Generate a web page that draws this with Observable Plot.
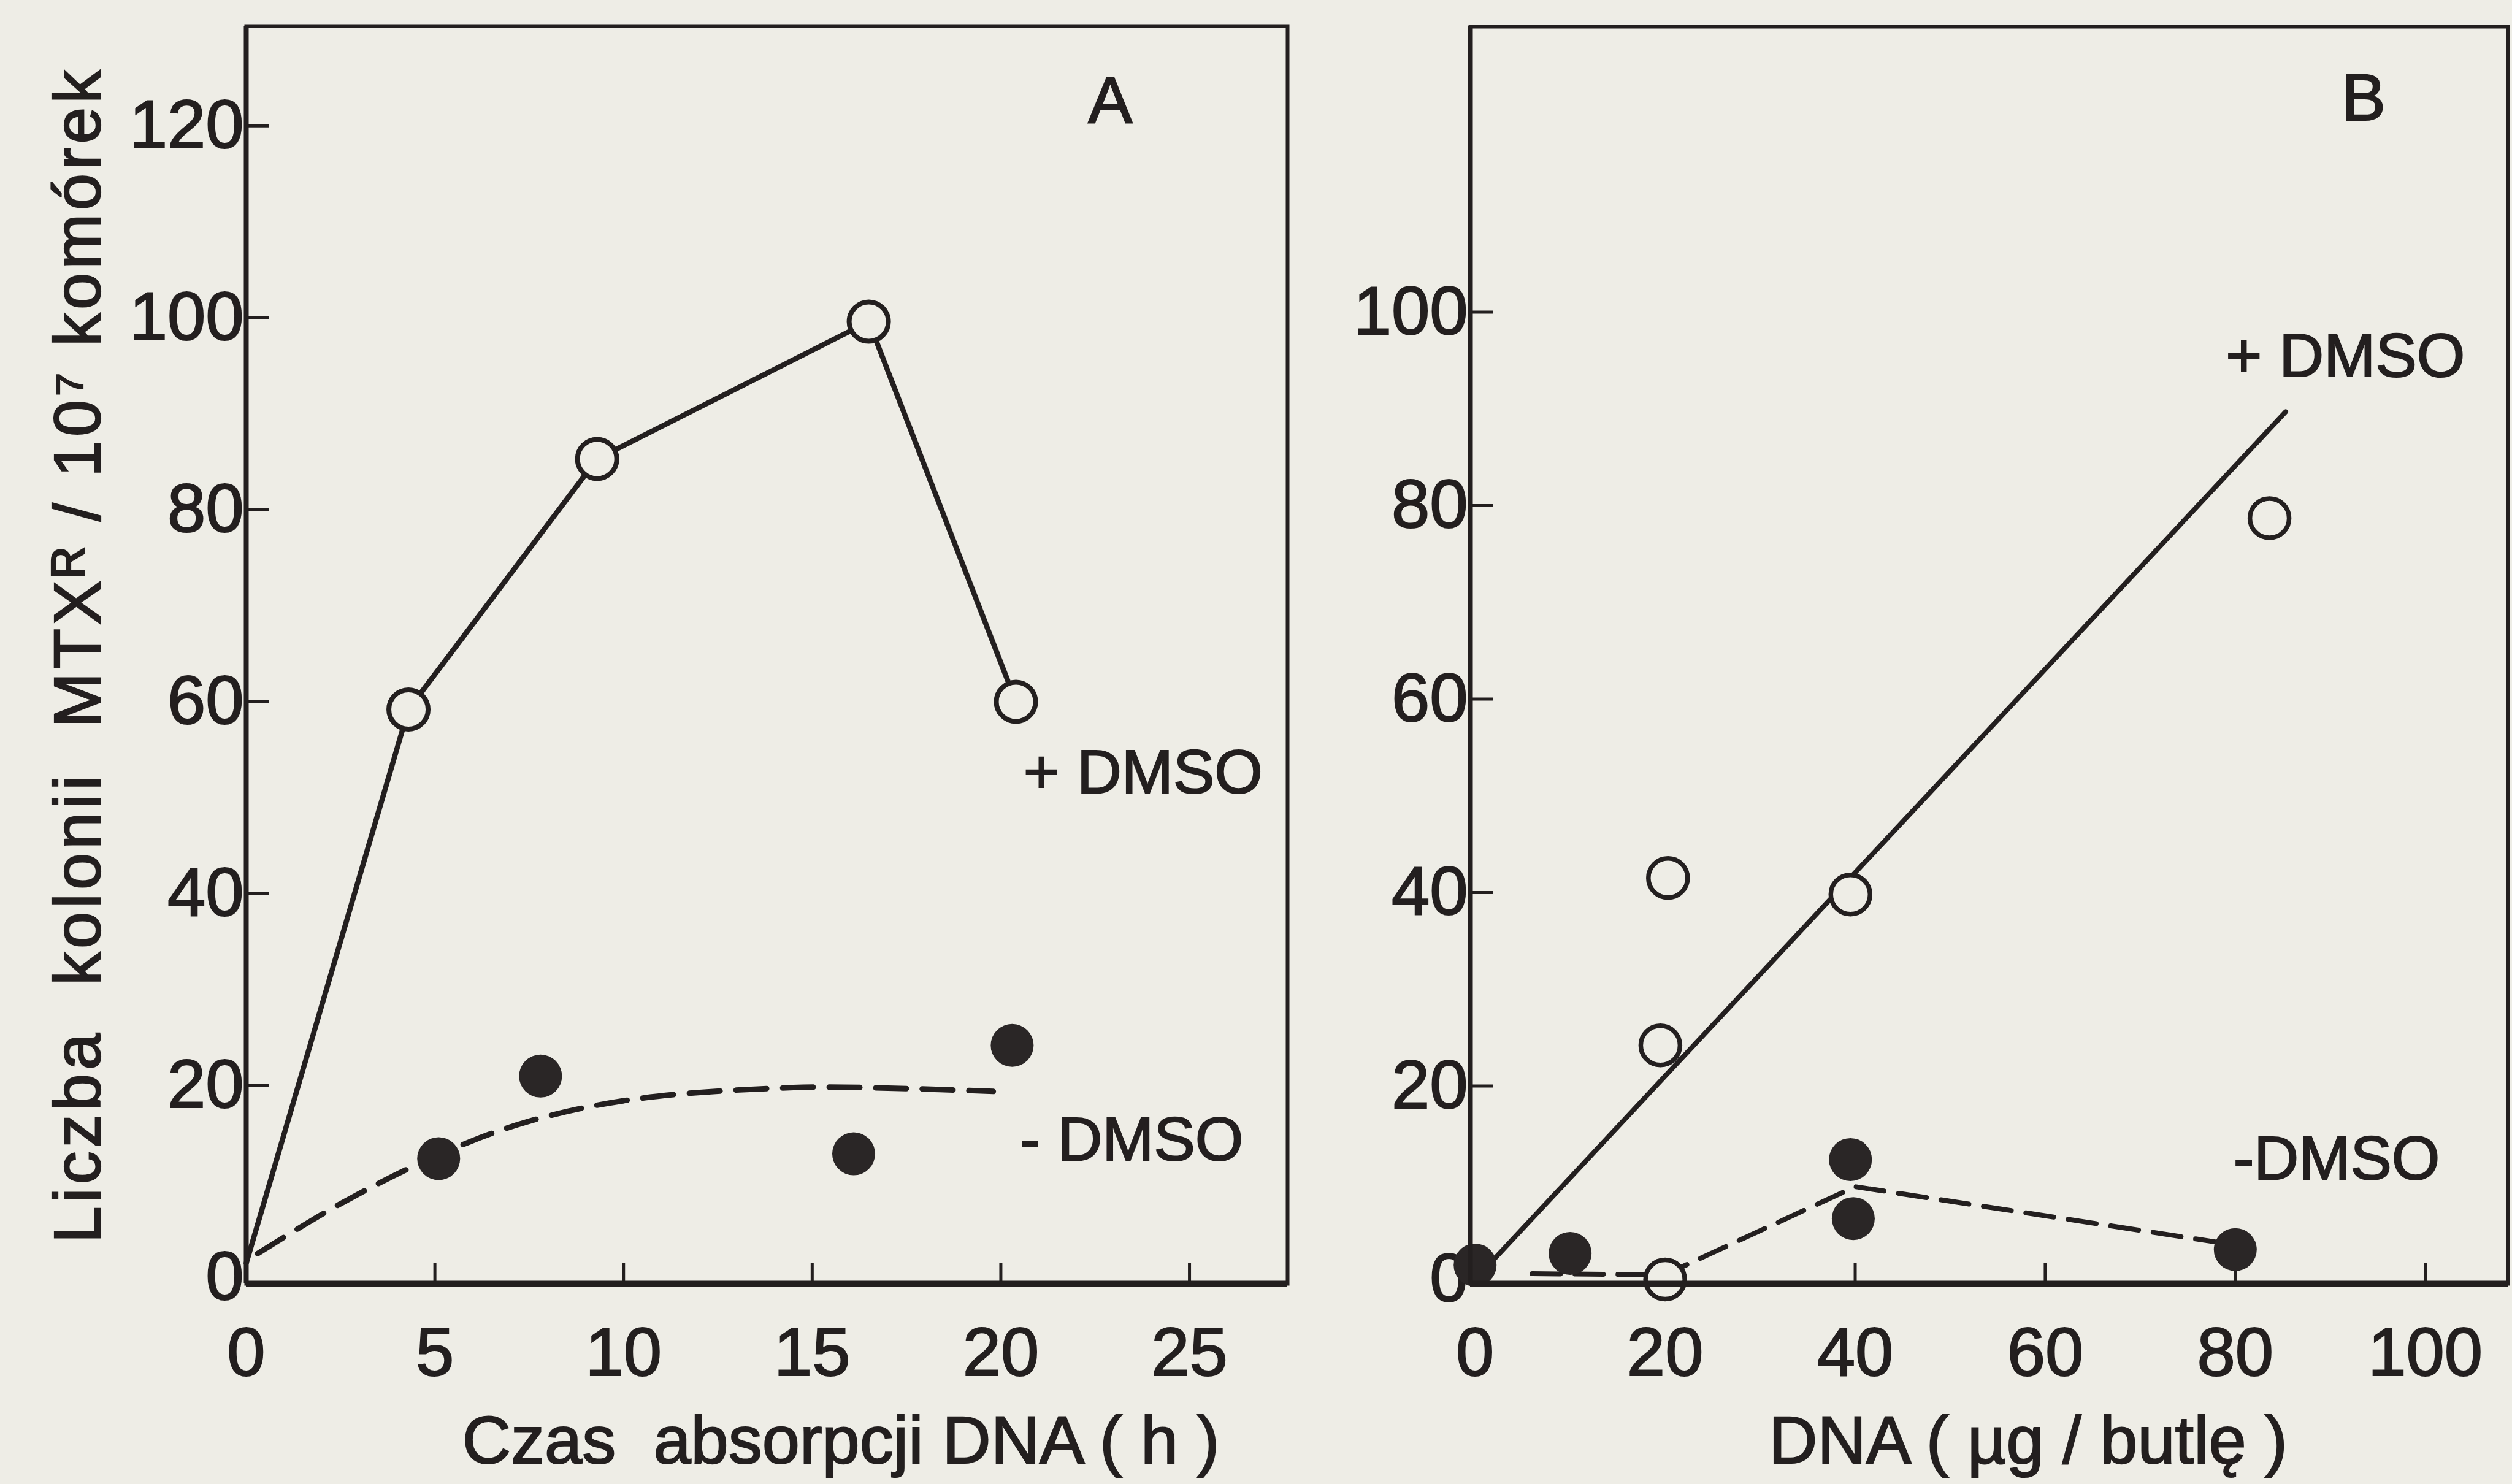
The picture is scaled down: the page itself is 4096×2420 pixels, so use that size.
<!DOCTYPE html>
<html>
<head>
<meta charset="utf-8">
<script src="https://cdn.jsdelivr.net/npm/d3@7"></script>
<script src="https://cdn.jsdelivr.net/npm/@observablehq/plot@0.6"></script>
<style>
  html, body { margin: 0; padding: 0; background: #eeede6; }
  #wrap { position: relative; width: 4096px; height: 2420px; overflow: hidden; background: #eeede6; }
  #wrap > div { position: absolute; top: 0; }
  svg { overflow: visible; }
  #wrap text { stroke: #231f1f; stroke-width: 2.2px; }
</style>
</head>
<body>
<div id="wrap"><div id="panelA" style="left:0px"></div><div id="panelB" style="left:2200px"></div></div>
<script>
// ---------- Panel A: time of DNA absorption (h) ----------
const timeA_plus      = [4.3, 9.3, 16.5, 20.4];
const coloniesA_plus  = [59.2, 85.3, 99.6, 60.0];
const lineA_x         = [0, 4.3, 9.3, 16.5, 20.4];
const lineA_y         = [1.5, 59.2, 85.3, 99.6, 60.0];
const timeA_minus     = [5.1, 7.8, 16.1, 20.3];
const coloniesA_minus = [12.4, 21.0, 12.9, 24.2];
const fitA_x          = [0.3, 2.5, 5.1, 7.5, 10.3, 14.5, 17.5, 19.8];
const fitA_y          = [2.5, 7.7, 12.8, 16.3, 18.6, 19.8, 19.7, 19.4];
const xTicksA         = [0, 5, 10, 15, 20, 25];
const yTicksA         = [0, 20, 40, 60, 80, 100, 120];
const xDomainA        = [0, 27.6];
const yDomainA        = [-0.64, 130.4];

// ---------- Panel B: DNA (µg / bottle) ----------
const dnaB_plus       = [19.5, 20.3, 39.5, 83.6, 20];
const coloniesB_plus  = [24.2, 41.5, 39.8, 78.7, 0];
const fitB_x          = [0, 85.3];
const fitB_y          = [0, 89.7];
const dnaB_minus      = [0, 10, 39.5, 39.8, 80];
const coloniesB_minus = [1.5, 2.7, 12.4, 6.3, 3.1];
const dashB_x         = [6, 20, 40, 78.5];
const dashB_y         = [0.6, 0.5, 9.6, 3.8];
const xTicksB         = [0, 20, 40, 60, 80, 100];
const yTicksB         = [0, 20, 40, 60, 80, 100];
const xDomainB        = [-0.5, 108.7];
const yDomainB        = [-0.44, 129.5];

// ---------- Text ----------
const yTitle   = "Liczba\u00a0\u00a0kolonii\u00a0\u00a0MTX\u1D3F / 10\u2077 komórek";
const xTitleA  = "Czas\u00a0\u00a0absorpcji DNA ( h )";
const xTitleB  = "DNA ( µg / butlę )";
const panelLetterA = [{t: "A", x: 22.9, y: 122.5}];
const panelLetterB = [{t: "B", x: 93.5, y: 122}];
const seriesLabelsA = [{t: "+ DMSO", x: 20.6, y: 52.6}, {t: "- DMSO", x: 20.5, y: 14.3}];
const seriesLabelsB = [{t: "+ DMSO", x: 79.0, y: 95.4}, {t: "-DMSO", x: 79.8, y: 12.4}];
const titleAX  = 15.76;
const titleBX  = 58.2;

const ink = "#231f1f";
const paper = "#eeede6";
const dotFill = "#2a2626";
const font = "'Liberation Sans', Arial, Helvetica, sans-serif";
const H = 2420;

const zip = (xs, ys) => xs.map((x, i) => ({x, y: ys[i]}));

function panel(o) {
  const frameW = o.width - o.marginLeft - o.marginRight;
  const frameH = H - o.marginTop - o.marginBottom;
  return Plot.plot({
    width: o.width, height: H,
    marginLeft: o.marginLeft, marginRight: o.marginRight, marginTop: o.marginTop, marginBottom: o.marginBottom,
    x: {domain: o.xDomain}, y: {domain: o.yDomain},
    style: {background: "transparent", fontFamily: font, fontSize: "112px", color: ink, overflow: "visible"},
    marks: [
      Plot.axisX(o.xTicks, {tickSize: 0, tickPadding: 70, fontSize: 112, label: null, fill: ink}),
      Plot.axisY(o.yTicks, {tickSize: 0, tickPadding: 4, fontSize: 112, label: null, fill: ink}),
      Plot.ruleX(o.xTicks.filter(d => d > 0), {x: d => d, stroke: ink, strokeWidth: 5, insetTop: frameH - 34}),
      Plot.ruleY(o.yTicks.filter(d => d > 0), {y: d => d, stroke: ink, strokeWidth: 5, insetRight: frameW - 38}),
      ...o.marks,
      Plot.frame({stroke: ink, strokeWidth: 6}),
      Plot.ruleY([o.yDomain[0]], {stroke: ink, strokeWidth: 10}),
      Plot.ruleX([o.xDomain[0]], {stroke: ink, strokeWidth: 8}),
      Plot.text(o.letter, {x: "x", y: "y", text: "t", textAnchor: "middle", fontSize: 108, lineAnchor: "middle", fill: ink}),
      Plot.text(o.series, {x: "x", y: "y", text: "t", textAnchor: "start", fontSize: 101, lineAnchor: "middle", fill: ink}),
      Plot.text([o.xTitle], {x: () => o.titleX, frameAnchor: "bottom", dy: 214, lineAnchor: "top", textAnchor: "middle", text: d => d, fontSize: 110, fill: ink}),
      ...(o.extra || [])
    ]
  });
}

const plotA = panel({
  width: 2200, marginLeft: 401, marginRight: 101, marginTop: 42, marginBottom: 327,
  xDomain: xDomainA, yDomain: yDomainA, xTicks: xTicksA, yTicks: yTicksA,
  letter: panelLetterA, series: seriesLabelsA, xTitle: xTitleA, titleX: titleAX,
  marks: [
    Plot.line(zip(lineA_x, lineA_y), {x: "x", y: "y", stroke: ink, strokeWidth: 8.5}),
    Plot.line(zip(fitA_x, fitA_y), {x: "x", y: "y", stroke: ink, strokeWidth: 9, strokeDasharray: "50,26", curve: "catmull-rom"}),
    Plot.dot(zip(timeA_plus, coloniesA_plus), {x: "x", y: "y", r: 32, fill: paper, stroke: ink, strokeWidth: 8}),
    Plot.dot(zip(timeA_minus, coloniesA_minus), {x: "x", y: "y", r: 35, fill: dotFill, stroke: "none"})
  ],
  extra: [
    Plot.text([yTitle], {frameAnchor: "left", dx: -273, rotate: -90, text: d => d, textAnchor: "middle", lineAnchor: "middle", fontSize: 108, fill: ink})
  ]
});

const plotB = panel({
  width: 1896, marginLeft: 197, marginRight: 7, marginTop: 43, marginBottom: 327,
  xDomain: xDomainB, yDomain: yDomainB, xTicks: xTicksB, yTicks: yTicksB,
  letter: panelLetterB, series: seriesLabelsB, xTitle: xTitleB, titleX: titleBX,
  marks: [
    Plot.line(zip(fitB_x, fitB_y), {x: "x", y: "y", stroke: ink, strokeWidth: 8}),
    Plot.line(zip(dashB_x, dashB_y), {x: "x", y: "y", stroke: ink, strokeWidth: 8, strokeDasharray: "46,24"}),
    Plot.dot(zip(dnaB_plus, coloniesB_plus), {x: "x", y: "y", r: 32, fill: paper, stroke: ink, strokeWidth: 7.5}),
    Plot.dot(zip(dnaB_minus, coloniesB_minus), {x: "x", y: "y", r: 35, fill: dotFill, stroke: "none"})
  ]
});

document.getElementById("panelA").appendChild(plotA);
document.getElementById("panelB").appendChild(plotB);

// widen the letter spacing of the rotated y-axis title, as in the original
d3.select(plotA).selectAll("text")
  .filter(function () { return this.textContent === yTitle; })
  .style("letter-spacing", "6px");
</script>
</body>
</html>
